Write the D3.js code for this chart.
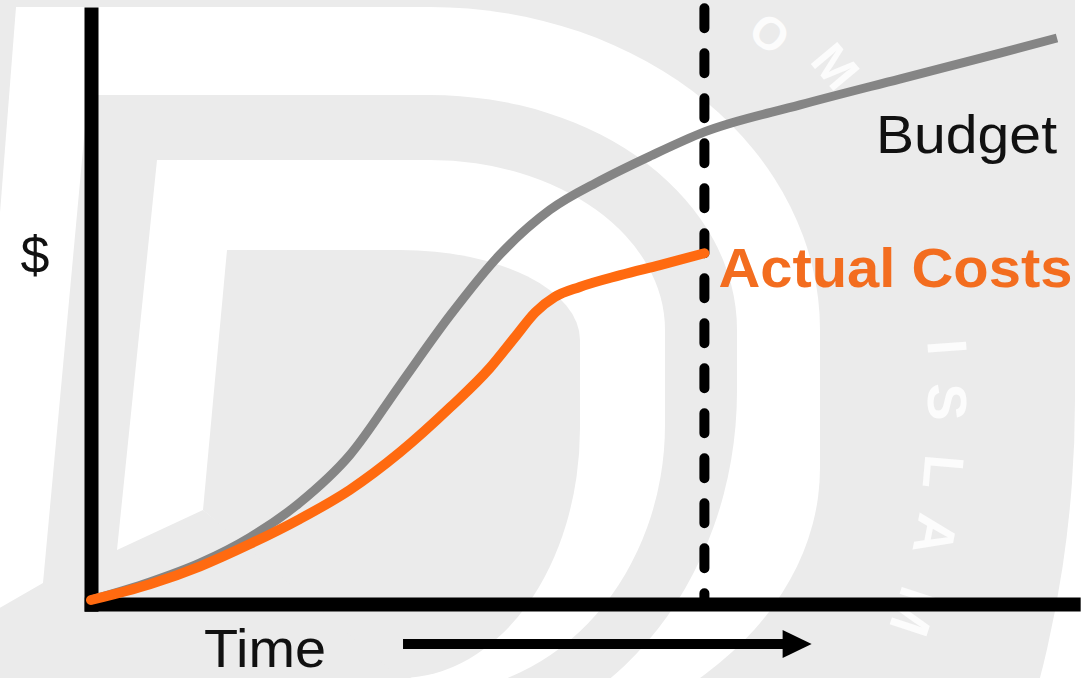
<!DOCTYPE html>
<html>
<head>
<meta charset="utf-8">
<script src="https://cdn.jsdelivr.net/npm/d3@7"></script>
<style>
  html, body { margin: 0; padding: 0; background: #ffffff; }
  svg { display: block; }
</style>
</head>
<body>
<svg id="chart" width="1082" height="678"></svg>
<script>
// Time runs 0–100 along the plot, spending 0–100 up it.
const budgetTime   = [0, 6.1, 11.3, 16.5, 21.6, 26.8, 32.0, 37.2, 42.3, 47.5, 52.7, 57.9, 63.5, 73.4, 83.7, 94.1, 100];
const budgetValues = [0, 3.2, 6.6, 11.2, 17.3, 25.8, 38.3, 50.7, 61.4, 69.4, 74.6, 79.0, 83.3, 88.1, 92.7, 97.3, 100];
const actualTime   = [0, 6.1, 11.3, 16.5, 21.6, 26.8, 32.0, 37.2, 41.3, 43.9, 46.0, 48.0, 50.6, 54.8, 58.9, 63.5];
const actualValues = [0, 2.8, 6.0, 10.0, 14.4, 19.6, 26.3, 34.3, 41.3, 46.8, 51.2, 53.9, 55.7, 57.8, 59.6, 61.7];
const statusDate   = 63.5;                 // "today" marker
const seriesLabels = ["Budget", "Actual Costs"];
const axisLabels   = ["$", "Time"];
const timeArrow    = [32.3, 74.6];         // span of the arrow under the time axis

const W = 1082, H = 678;
const svg = d3.select("#chart");

const x = d3.scaleLinear().domain([0, 100]).range([91, 1057]);
const y = d3.scaleLinear().domain([0, 100]).range([600, 38]);

// ---------- faint logo watermark in the background ----------
const wm = svg.append("g").attr("class", "watermark");
const GREY = "#ebebeb", PAPER = "#ffffff";
wm.append("rect").attr("width", W).attr("height", H).attr("fill", PAPER);

// one "D": slanted stem, flat top, bowl that sweeps down off the page
function dShape(stem, top, cx, rx, cyTop, cyBot, ryBot, tail) {
  const p = d3.path();
  p.moveTo(stem[0][0], stem[0][1]);
  p.lineTo(stem[1][0], stem[1][1]);
  p.lineTo(cx, top);
  let s = p.toString();
  s += `A${rx},${cyTop - top} 0 0 1 ${cx + rx},${cyTop}`;
  s += `L${cx + rx},${cyBot}`;
  s += `A${rx},${ryBot} 0 0 1 ${cx},${cyBot + ryBot}`;
  tail.forEach(pt => { s += `L${pt[0]},${pt[1]}`; });
  return s + "Z";
}
wm.append("path").attr("fill", GREY)
  .attr("d", "M-10,-10L1075,-10L1075,400A645,855 0 0 1 430,1255L-10,1255Z");
wm.append("path").attr("fill", PAPER)
  .attr("d", dShape([[-32, 625], [16, 7]], 7, 430, 390, 330, 468, 291, []));
wm.append("path").attr("fill", GREY)
  .attr("d", dShape([[43, 583], [88, 95]], 95, 430, 307, 330, 391, 355, [[-40, 746], [-40, 631]]));
wm.append("path").attr("fill", PAPER)
  .attr("d", dShape([[117, 550], [157, 160]], 160, 430, 235, 330, 425, 268, [[203, 510]]));
wm.append("path").attr("fill", GREY)
  .attr("d", dShape([[203, 510], [227, 250]], 250, 400, 180, 340, 428, 250, []));

const wmLetters = [
  { c: "O", px: 770, py: 33,  r: 40, s: 46 },
  { c: "M", px: 836, py: 66,  r: 50, s: 50 },
  { c: "I", px: 948, py: 347, r: 86, s: 56 },
  { c: "S", px: 948, py: 402, r: 90, s: 56 },
  { c: "L", px: 944, py: 472, r: 95, s: 56 },
  { c: "A", px: 936, py: 535, r: 101, s: 56 },
  { c: "M", px: 915, py: 612, r: 108, s: 56 }
];
wm.selectAll("text.wl").data(wmLetters).join("text")
  .attr("class", "wl")
  .attr("transform", d => `translate(${d.px},${d.py}) rotate(${d.r})`)
  .attr("y", d => d.s * 0.36)
  .attr("text-anchor", "middle")
  .attr("font-family", "Liberation Sans, Arial, sans-serif")
  .attr("font-weight", "bold")
  .attr("font-size", d => d.s)
  .attr("fill", "#fcfcfc")
  .text(d => d.c);

// ---------- axes ----------
const xAxisScale = d3.scaleLinear().domain([-0.7, 102.4]).range([x(-0.7), x(102.4)]);
const yAxisScale = d3.scaleLinear().domain([-2, 105.5]).range([y(-2), y(105.5)]);

const gx = svg.append("g")
  .attr("transform", `translate(0,${y(-0.7)})`)
  .call(d3.axisBottom(xAxisScale).tickValues([]).tickSizeOuter(0));
const gy = svg.append("g")
  .attr("transform", `translate(${x(0)},0)`)
  .call(d3.axisLeft(yAxisScale).tickValues([]).tickSizeOuter(0));
[gx, gy].forEach(g => g.select(".domain")
  .attr("stroke", "#000").attr("stroke-width", 14).attr("stroke-linecap", "butt"));

// time arrow
const arrowY = y(-0.7) + 40;
svg.append("line")
  .attr("x1", x(timeArrow[0])).attr("x2", x(timeArrow[1]) - 26)
  .attr("y1", arrowY).attr("y2", arrowY)
  .attr("stroke", "#000").attr("stroke-width", 10);
svg.append("path")
  .attr("d", `M${x(timeArrow[1]) - 29},${arrowY - 14}L${x(timeArrow[1])},${arrowY}L${x(timeArrow[1]) - 29},${arrowY + 14}Z`)
  .attr("fill", "#000");

// ---------- series ----------
const line = d3.line()
  .x(d => x(d[0]))
  .y(d => y(d[1]))
  .curve(d3.curveMonotoneX);

svg.append("path")
  .datum(d3.zip(budgetTime, budgetValues))
  .attr("d", line)
  .attr("fill", "none")
  .attr("stroke", "#858585")
  .attr("stroke-width", 9)
  .attr("stroke-linecap", "butt");

// status date marker
svg.append("line")
  .attr("x1", x(statusDate)).attr("x2", x(statusDate))
  .attr("y1", y(105.3)).attr("y2", y(0))
  .attr("stroke", "#000")
  .attr("stroke-width", 10)
  .attr("stroke-dasharray", "20 25")
  .attr("stroke-linecap", "round");

svg.append("path")
  .datum(d3.zip(actualTime, actualValues))
  .attr("d", line)
  .attr("fill", "none")
  .attr("stroke", "#ff6a10")
  .attr("stroke-width", 10)
  .attr("stroke-linecap", "round")
  .attr("stroke-linejoin", "round");

// ---------- labels ----------
const font = "Liberation Sans, Arial, Helvetica, sans-serif";

svg.append("text")
  .attr("x", x(budgetTime[budgetTime.length - 1]))
  .attr("y", 153)
  .attr("text-anchor", "end")
  .attr("font-family", font)
  .attr("font-size", 53)
  .attr("textLength", 181)
  .attr("lengthAdjust", "spacingAndGlyphs")
  .attr("fill", "#111")
  .text(seriesLabels[0]);

svg.append("text")
  .attr("x", x(statusDate) + 14)
  .attr("y", 287)
  .attr("font-family", font)
  .attr("font-weight", "bold")
  .attr("font-size", 56)
  .attr("textLength", 354)
  .attr("lengthAdjust", "spacingAndGlyphs")
  .attr("fill", "#f36d1f")
  .text(seriesLabels[1]);

svg.append("text")
  .attr("x", 35)
  .attr("y", 273)
  .attr("text-anchor", "middle")
  .attr("font-family", font)
  .attr("font-size", 52)
  .attr("fill", "#111")
  .text(axisLabels[0]);

svg.append("text")
  .attr("x", 204)
  .attr("y", 667)
  .attr("font-family", font)
  .attr("font-size", 53)
  .attr("textLength", 122)
  .attr("lengthAdjust", "spacingAndGlyphs")
  .attr("fill", "#111")
  .text(axisLabels[1]);
</script>
</body>
</html>
